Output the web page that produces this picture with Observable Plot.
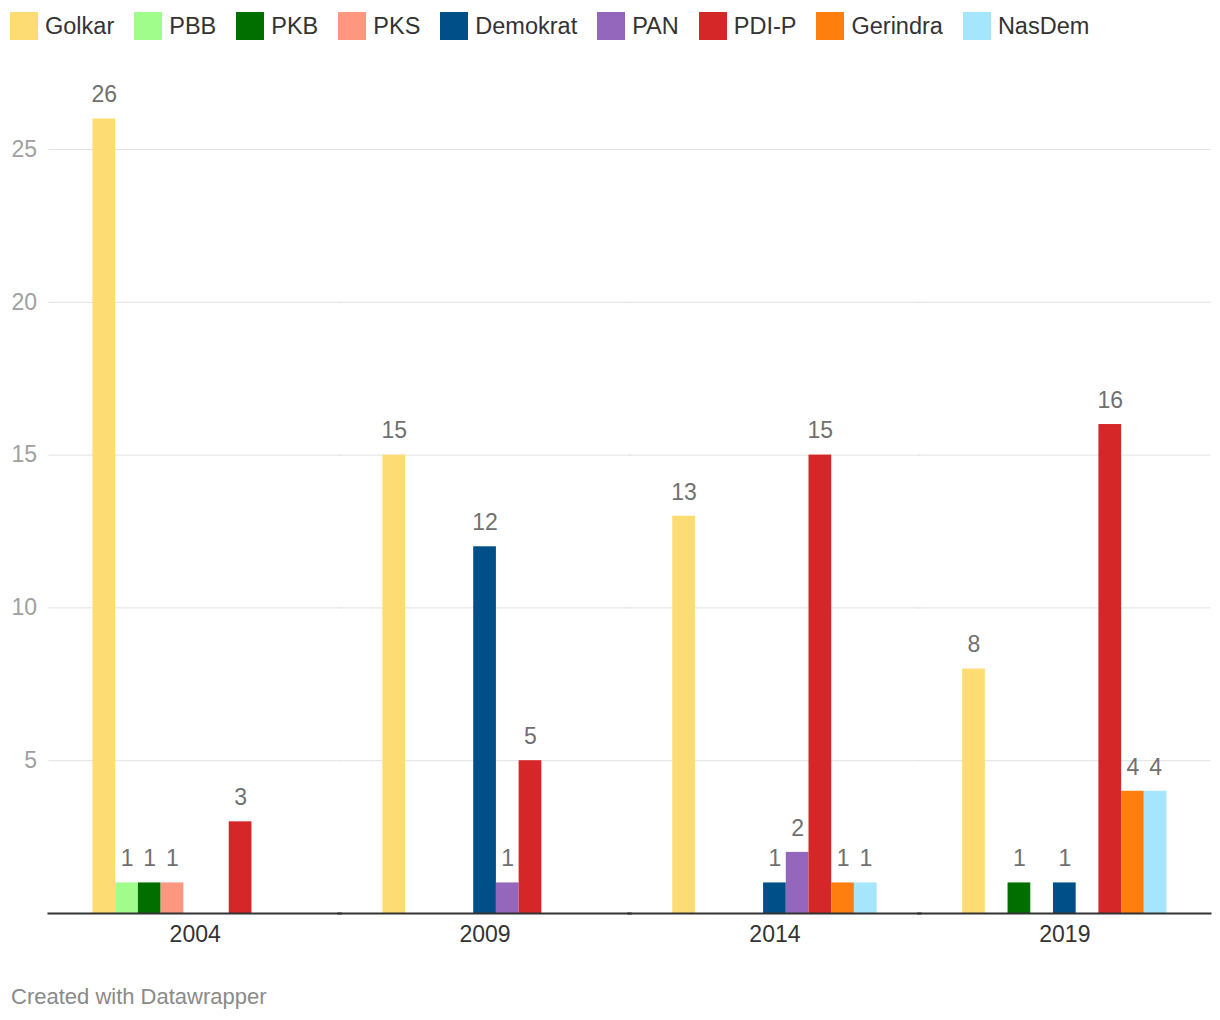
<!DOCTYPE html>
<html>
<head>
<meta charset="utf-8">
<script src="https://cdn.jsdelivr.net/npm/d3@7"></script>
<script src="https://cdn.jsdelivr.net/npm/@observablehq/plot@0.6"></script>
<style>
  body { margin: 0; background: #fff; font-family: "Liberation Sans", Arial, Helvetica, sans-serif; }
  #legend { display: flex; height: 50px; box-sizing: border-box; padding: 12px 0 0 10px; }
  .item { display: flex; align-items: center; margin-right: 20px; font-size: 23.5px; color: #333; height: 28px; }
  .sw { width: 28px; height: 28px; margin-right: 7px; flex: none; }
  #footer { margin: 0; padding-left: 11px; font-size: 22px; line-height: 24px; color: #8a8a8a; margin-top: 35px; }
</style>
</head>
<body>
<div id="legend"></div>
<div id="chart"></div>
<div id="footer">Created with Datawrapper</div>
<script>
const years = ["2004", "2009", "2014", "2019"];
const parties = ["Golkar", "PBB", "PKB", "PKS", "Demokrat", "PAN", "PDI-P", "Gerindra", "NasDem"];
const colors = ["#fedc74", "#a0fd8c", "#006f00", "#fe9680", "#004f88", "#9467bd", "#d62728", "#ff7f0e", "#a6e6fd"];

const golkar   = [26, 15, 13, 8];
const pbb      = [1, 0, 0, 0];
const pkb      = [1, 0, 0, 1];
const pks      = [1, 0, 0, 0];
const demokrat = [0, 12, 1, 1];
const pan      = [0, 1, 2, 0];
const pdip     = [3, 5, 15, 16];
const gerindra = [0, 0, 1, 4];
const nasdem   = [0, 0, 1, 4];

const yTicks = [0, 5, 10, 15, 20, 25];

const series = [golkar, pbb, pkb, pks, demokrat, pan, pdip, gerindra, nasdem];
const data = [];
years.forEach((year, i) => {
  parties.forEach((party, j) => {
    const v = series[j][i];
    if (v > 0) data.push({ year, party, value: v });
  });
});

// legend
const legend = document.getElementById("legend");
parties.forEach((p, i) => {
  const it = document.createElement("div");
  it.className = "item";
  const sw = document.createElement("div");
  sw.className = "sw";
  sw.style.background = colors[i];
  it.appendChild(sw);
  it.appendChild(document.createTextNode(p));
  legend.appendChild(it);
});

const ext = -44;
const chart = Plot.plot({
  width: 1220,
  height: 900,
  marginLeft: 49,
  marginRight: 10,
  marginTop: 99,
  marginBottom: 37,
  style: { fontFamily: "'Liberation Sans', Arial, Helvetica, sans-serif", fontSize: "23px", background: "#fff" },
  fx: { domain: years, paddingInner: 0.295, paddingOuter: 0.15, round: false, label: null },
  x: { domain: parties, padding: 0, round: false, axis: null },
  y: { domain: [0, 25], label: null },
  color: { domain: parties, range: colors },
  marks: [
    Plot.ruleY(yTicks.filter(d => d > 0), { stroke: "#e2e2e2", strokeWidth: 1, insetLeft: ext, insetRight: ext }),
    Plot.barY(data, { fx: "year", x: "party", y: "value", fill: "party" }),
    Plot.ruleY([0], { stroke: "#333", strokeWidth: 2, insetLeft: ext - 1, insetRight: ext - 1 }),
    Plot.text(data, { fx: "year", x: "party", y: "value", text: d => String(d.value), dy: -24, fill: "#707070", fontSize: 23 }),
    Plot.axisY({ ticks: yTicks.filter(d => d > 0), tickSize: 0, tickPadding: 56, fill: "#a0a0a0", label: null, fontSize: 23 }),
    Plot.axisFx({ anchor: "bottom", tickSize: 0, tickPadding: 12, fill: "#333", label: null, fontSize: 23 })
  ]
});
document.getElementById("chart").appendChild(chart);
</script>
</body>
</html>
